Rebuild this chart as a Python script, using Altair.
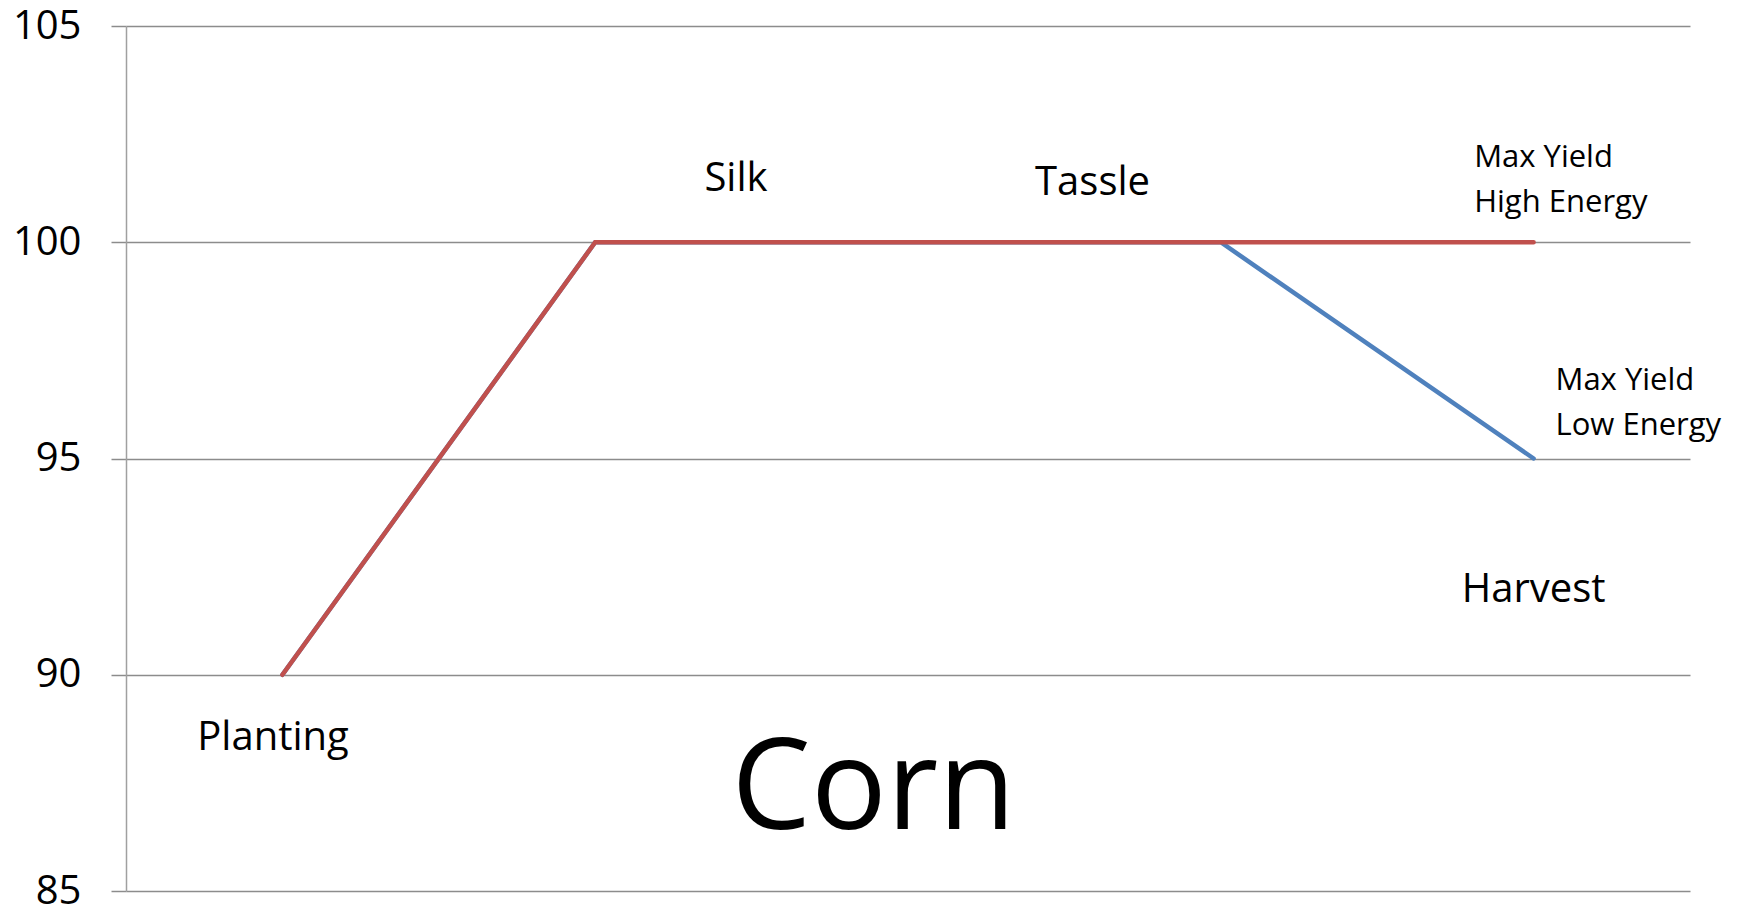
import altair as alt
import pandas as pd

# Data
stage_index = [1, 2, 3, 4, 5]
low_energy = [90, 100, 100, 100, 95]
high_energy = [90, 100, 100, 100, 100]

# Annotations (text, x in stage units, y in value units, size, align)
ann_text = ["Planting", "Silk", "Tassle", "Max Yield", "High Energy",
            "Max Yield", "Low Energy", "Harvest"]
ann_x = [0.97, 2.45, 3.59, 4.81, 4.81, 5.07, 5.07, 5.0]
ann_y = [88.26, 101.19, 101.09, 101.74, 100.70, 96.59, 95.55, 91.69]
ann_size = [40, 40, 40, 31, 31, 31, 31, 40]
ann_align = ["center", "center", "center", "left", "left", "left", "left", "center"]

title_text = ["Corn"]
title_x = [2.89]
title_y = [86.44]

low_df = pd.DataFrame({"stage": stage_index, "value": low_energy})
high_df = pd.DataFrame({"stage": stage_index, "value": high_energy})
ann = pd.DataFrame({"text": ann_text, "x": ann_x, "y": ann_y,
                    "size": ann_size, "al": ann_align})
ttl = pd.DataFrame({"text": title_text, "x": title_x, "y": title_y})

FONT = "Open Sans"

xscale = alt.Scale(domain=[0.5, 5.5], nice=False, zero=False)
yscale = alt.Scale(domain=[85, 105], nice=False, zero=False)

yaxis = alt.Axis(values=[85, 90, 95, 100, 105], title=None, grid=True,
                 gridColor="#8c8c8c", gridWidth=1.5,
                 domainColor="#a0a0a0", domainWidth=1.5,
                 tickColor="#8c8c8c", tickWidth=1.5, tickSize=15,
                 labelFont=FONT, labelFontSize=40, labelColor="#000000",
                 labelPadding=30, labelBaseline="middle")

low_line = alt.Chart(low_df).mark_line(
    strokeWidth=4.5, strokeCap="round", color="#4F81BD").encode(
    x=alt.X("stage:Q", scale=xscale, axis=None),
    y=alt.Y("value:Q", scale=yscale, axis=yaxis),
)
high_line = alt.Chart(high_df).mark_line(
    strokeWidth=4.5, strokeCap="round", color="#C0504D").encode(
    x=alt.X("stage:Q", scale=xscale),
    y=alt.Y("value:Q", scale=yscale),
)

texts_center = alt.Chart(ann[ann["al"] == "center"]).mark_text(
    font=FONT, align="center", baseline="alphabetic", color="#000000").encode(
    x=alt.X("x:Q", scale=xscale), y=alt.Y("y:Q", scale=yscale),
    text="text:N", size=alt.Size("size:Q", scale=None, legend=None))
texts_left = alt.Chart(ann[ann["al"] == "left"]).mark_text(
    font=FONT, align="left", baseline="alphabetic", color="#000000").encode(
    x=alt.X("x:Q", scale=xscale), y=alt.Y("y:Q", scale=yscale),
    text="text:N", size=alt.Size("size:Q", scale=None, legend=None))
title_mark = alt.Chart(ttl).mark_text(
    font=FONT, align="center", baseline="alphabetic", fontSize=126,
    color="#000000").encode(
    x=alt.X("x:Q", scale=xscale), y=alt.Y("y:Q", scale=yscale), text="text:N")

chart = alt.layer(low_line, high_line, texts_center, texts_left, title_mark).properties(
    width=1564, height=865,
    background="white",
    autosize=alt.AutoSizeParams(type="none"),
    padding={"left": 118, "top": 18, "right": 40, "bottom": 20},
).configure_view(strokeWidth=0, stroke="transparent")

chart.save("out.html", embed_options={"renderer": "svg", "actions": False})
